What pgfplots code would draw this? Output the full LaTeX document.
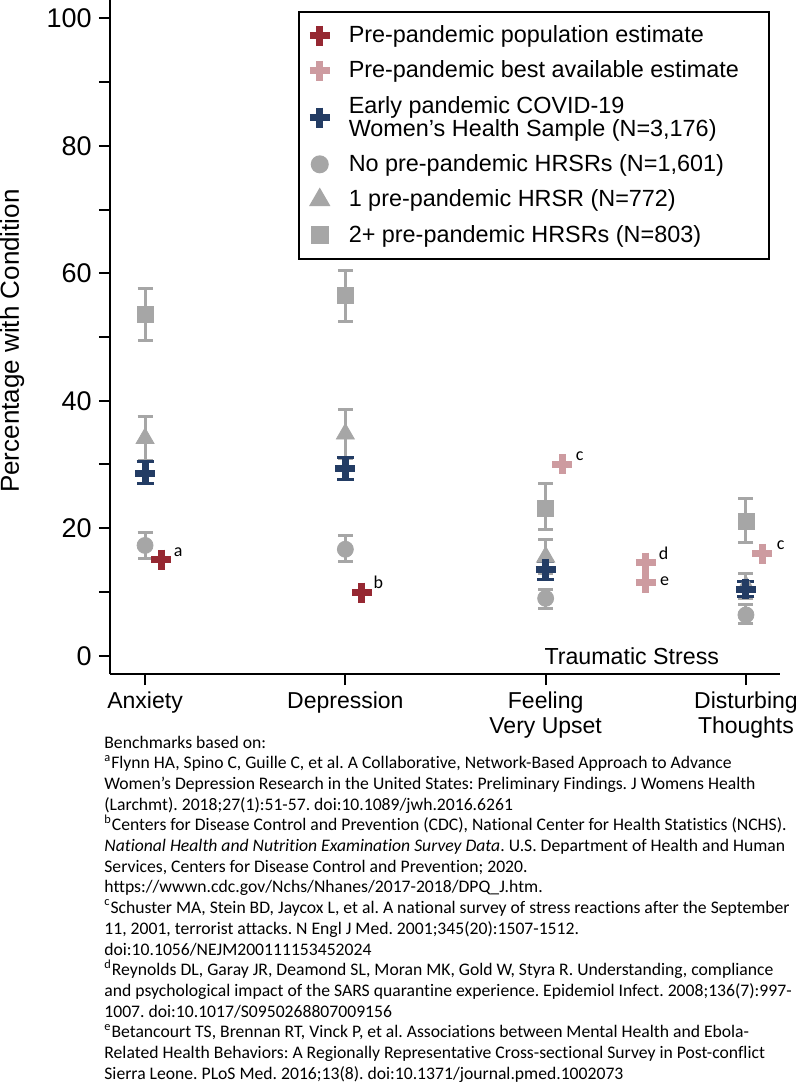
\documentclass[border=0pt]{standalone}
\usepackage{pgfplots}
\pgfplotsset{compat=1.18}
\usepackage{pgfplotstable}
\usepackage{fontspec}
\setmainfont{Liberation Sans}
\newfontfamily\notefont[Ligatures={NoCommon}]{Carlito}

\definecolor{prepopRed}{RGB}{150,40,50}
\definecolor{bestPink}{RGB}{205,155,160}
\definecolor{covidNavy}{RGB}{35,60,100}
\definecolor{hrsrGray}{RGB}{166,166,166}

% x: 1 anxiety, 2 depression, 3 feeling very upset, 4 disturbing thoughts
\pgfplotstableread{
x y ep em
1 53.5 4.1 4.1
2 56.5 3.9 4.0
3 23.1 3.9 3.3
4 21.0 3.6 3.2
}\sqdata
\pgfplotstableread{
x y ep em
1 34.1 3.4 3.4
2 34.8 3.9 3.8
3 15.5 2.7 2.6
4 10.9 2.0 2.0
}\tridata
\pgfplotstableread{
x y ep em
1 17.3 2.1 2.0
2 16.7 2.1 1.9
3 9.0 1.4 1.6
4 6.4 1.7 1.3
}\circdata
\pgfplotstableread{
x y ep em
1 28.6 1.8 1.6
2 29.4 1.7 1.7
3 13.6 1.2 1.6
4 10.4 1.2 1.1
}\covdata

\newcommand\fnline[2]{\node[anchor=base west,inner sep=0pt,font=\notefont\fontsize{8.82}{11}\selectfont] at (52pt,-#1pt) {\frenchspacing#2};}

\begin{document}
\begin{tikzpicture}
\path[use as bounding box] (0,0) rectangle (400pt,-541.5pt);
\begin{axis}[
    at={(55pt,0pt)}, anchor=north west,
    scale only axis, width=335pt, height=337pt,
    xmin=0.825, xmax=4.17, ymin=-2.87, ymax=102.87,
    axis x line*=bottom, axis y line*=left,
    axis line style={line width=1pt,black},
    xtick={1,2,3,4},
    xticklabels={Anxiety,Depression,{Feeling\\Very Upset},{Disturbing\\Thoughts}},
    ytick={0,20,...,100},
    minor ytick={10,30,...,90},
    tick align=outside,
    major tick length=5.5pt, minor tick length=5.5pt,
    every tick/.style={line width=1pt,black},
    /pgf/number format/assume math mode=true,
    yticklabel style={font=\fontsize{13.5}{13.5}\selectfont,inner xsep=3.5pt},
    xticklabel style={font=\fontsize{11.5}{12.5}\selectfont,align=center,inner ysep=3pt},
    ylabel={Percentage with Condition},
    ylabel style={font=\fontsize{13}{13}\selectfont,at={(axis description cs:-0.146,0.494)},anchor=center},
    clip=false,
    legend style={at={(axis description cs:0.985,0.984)},anchor=north east,
        draw=black,line width=1pt,font=\fontsize{11.7}{11.5}\selectfont,
        inner xsep=5.5pt,inner ysep=7pt,row sep=7.6pt,column sep=9.5pt,
        nodes={inner sep=0pt,align=left}},
    legend cell align=left,
]
% gray groups by pre-pandemic HRSR count
\addplot[only marks,mark=square*,mark size=4pt,color=hrsrGray,forget plot,
    error bars/.cd,y dir=both,y explicit,
    error bar style={line width=1.5pt,hrsrGray},
    error mark options={rotate=90,line width=1.5pt,mark size=3.75pt,hrsrGray}]
    table[x=x,y=y,y error plus=ep,y error minus=em]{\sqdata};
\addplot[only marks,mark=triangle*,mark size=5.2pt,color=hrsrGray,forget plot,
    error bars/.cd,y dir=both,y explicit,
    error bar style={line width=1.5pt,hrsrGray},
    error mark options={rotate=90,line width=1.5pt,mark size=3.75pt,hrsrGray}]
    table[x=x,y=y,y error plus=ep,y error minus=em]{\tridata};
\addplot[only marks,mark=*,mark size=4pt,color=hrsrGray,forget plot,
    error bars/.cd,y dir=both,y explicit,
    error bar style={line width=1.5pt,hrsrGray},
    error mark options={rotate=90,line width=1.5pt,mark size=3.75pt,hrsrGray}]
    table[x=x,y=y,y error plus=ep,y error minus=em]{\circdata};
% covid sample
\addplot[only marks,mark=+,mark size=5pt,mark options={line width=3.5pt},color=covidNavy,forget plot,
    error bars/.cd,y dir=both,y explicit,
    error bar style={line width=1.5pt,covidNavy},
    error mark options={rotate=90,line width=1.5pt,mark size=4.25pt,covidNavy}]
    table[x=x,y=y,y error plus=ep,y error minus=em]{\covdata};
% benchmarks
\addplot[only marks,mark=+,mark size=5pt,mark options={line width=3.5pt},color=prepopRed,forget plot]
    coordinates {(1.08,15.06) (2.083,9.88)};
\addplot[only marks,mark=+,mark size=5pt,mark options={line width=3.5pt},color=bestPink,forget plot]
    coordinates {(3.083,30.07) (3.5,14.59) (3.5,11.45) (4.082,15.96)};

\node[font=\notefont\fontsize{9}{9}\selectfont] at (axis cs:1.166,16.2) {a};
\node[font=\notefont\fontsize{9}{9}\selectfont] at (axis cs:2.165,11.5) {b};
\node[font=\notefont\fontsize{9}{9}\selectfont] at (axis cs:3.17,31.3) {c};
\node[font=\notefont\fontsize{9}{9}\selectfont] at (axis cs:3.589,16.0) {d};
\node[font=\notefont\fontsize{9}{9}\selectfont] at (axis cs:3.594,11.7) {e};
\node[font=\notefont\fontsize{9}{9}\selectfont] at (axis cs:4.173,17.3) {c};
\node[font=\fontsize{11.6}{11.6}\selectfont] at (axis cs:3.43,0) {Traumatic Stress};

\addlegendimage{only marks,mark=+,mark size=5pt,mark options={line width=3.5pt},color=prepopRed}
\addlegendentry{Pre-pandemic population estimate}
\addlegendimage{only marks,mark=+,mark size=5pt,mark options={line width=3.5pt},color=bestPink}
\addlegendentry{Pre-pandemic best available estimate\hspace*{9.5pt}}
\addlegendimage{only marks,mark=+,mark size=5pt,mark options={line width=3.5pt},color=covidNavy}
\addlegendentry{Early pandemic COVID-19\\Women's Health Sample (N=3,176)}
\addlegendimage{only marks,mark=*,mark size=4pt,color=hrsrGray}
\addlegendentry{No pre-pandemic HRSRs (N=1,601)}
\addlegendimage{only marks,mark=triangle*,mark size=5.2pt,color=hrsrGray}
\addlegendentry{1 pre-pandemic HRSR (N=772)}
\addlegendimage{only marks,mark=square*,mark size=4pt,color=hrsrGray}
\addlegendentry{2+ pre-pandemic HRSRs (N=803)}
\end{axis}

% references under the chart
\fnline{374}{Benchmarks based on:}
\fnline{384.35}{\textsuperscript{a}Flynn HA, Spino C, Guille C, et al. A Collaborative, Network-Based Approach to Advance}
\fnline{394.7}{Women’s Depression Research in the United States: Preliminary Findings. J Womens Health}
\fnline{405.05}{(Larchmt). 2018;27(1):51-57. doi:10.1089/jwh.2016.6261}
\fnline{415.4}{\textsuperscript{b}Centers for Disease Control and Prevention (CDC), National Center for Health Statistics (NCHS).}
\fnline{425.75}{\textit{National Health and Nutrition Examination Survey Data}. U.S. Department of Health and Human}
\fnline{436.1}{Services, Centers for Disease Control and Prevention; 2020.}
\fnline{446.45}{https://wwwn.cdc.gov/Nchs/Nhanes/2017-2018/DPQ\_J.htm.}
\fnline{456.8}{\textsuperscript{c}Schuster MA, Stein BD, Jaycox L, et al. A national survey of stress reactions after the September}
\fnline{467.15}{11, 2001, terrorist attacks. N Engl J Med. 2001;345(20):1507-1512.}
\fnline{477.5}{doi:10.1056/NEJM200111153452024}
\fnline{487.85}{\textsuperscript{d}Reynolds DL, Garay JR, Deamond SL, Moran MK, Gold W, Styra R. Understanding, compliance}
\fnline{498.2}{and psychological impact of the SARS quarantine experience. Epidemiol Infect. 2008;136(7):997-}
\fnline{508.55}{1007. doi:10.1017/S0950268807009156}
\fnline{518.9}{\textsuperscript{e}Betancourt TS, Brennan RT, Vinck P, et al. Associations between Mental Health and Ebola-}
\fnline{529.25}{Related Health Behaviors: A Regionally Representative Cross-sectional Survey in Post-conflict}
\fnline{539.6}{Sierra Leone. PLoS Med. 2016;13(8). doi:10.1371/journal.pmed.1002073}
\end{tikzpicture}
\end{document}
